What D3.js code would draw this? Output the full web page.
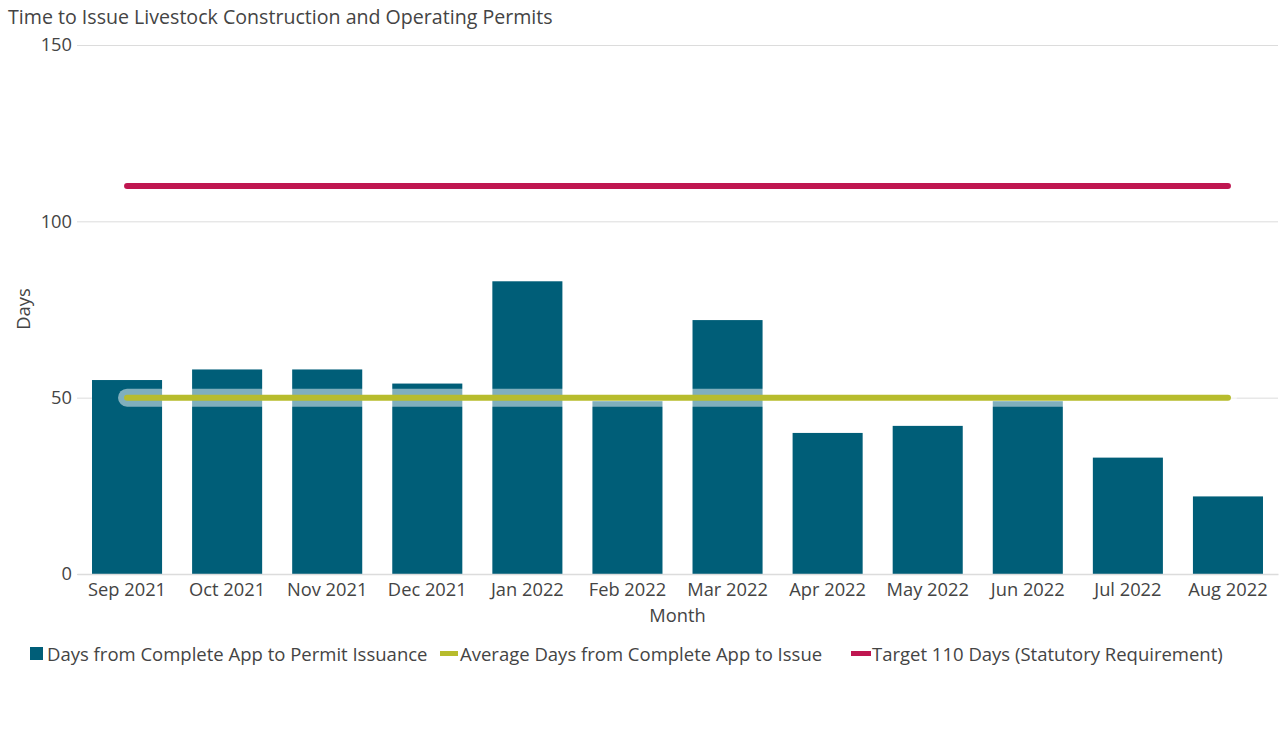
<!DOCTYPE html>
<html><head><meta charset="utf-8">
<script src="https://cdn.jsdelivr.net/npm/d3@7"></script>
<style>body{margin:0;background:#fff;font-family:"Open Sans",sans-serif;}</style>
</head><body>
<svg id="c" width="1285" height="751"></svg>
<script>
const months = ["Sep 2021","Oct 2021","Nov 2021","Dec 2021","Jan 2022","Feb 2022","Mar 2022","Apr 2022","May 2022","Jun 2022","Jul 2022","Aug 2022"];
const daysToIssue = [55,58,58,54,83,49,72,40,42,49,33,22];
const averageDays = [50,50,50,50,50,50,50,50,50,50,50,50];
const targetDays = [110,110,110,110,110,110,110,110,110,110,110,110];
const yTicks = [0,50,100,150];
const seriesNames = ["Days from Complete App to Permit Issuance","Average Days from Complete App to Issue","Target 110 Days (Statutory Requirement)"];

const colBar = "#005e78", colAvg = "#b7bc2d", colTgt = "#bf1650", txt = "#444";
const FS = 18.3;
const svg = d3.select("#c");
const L = 77, R = 1278, T = 45, B = 574;
const x = d3.scaleBand().domain(months).range([L, R]).paddingInner(0.3).paddingOuter(0.15);
const y = d3.scaleLinear().domain([0,150]).range([B, T]);

svg.append("text").attr("x",8).attr("y",24).attr("font-size",19.6).attr("fill",txt).text("Time to Issue Livestock Construction and Operating Permits");

const yAx = svg.append("g").attr("transform",`translate(${L},0)`)
  .call(d3.axisLeft(y).tickValues(yTicks).tickSize(-(R-L)).tickPadding(5));
yAx.select(".domain").remove();
yAx.selectAll(".tick line").attr("stroke","#dcdcdc").attr("stroke-width",1);
yAx.selectAll(".tick text").attr("font-size",FS).attr("fill",txt).attr("font-family","Open Sans");

svg.append("g").selectAll("rect").data(daysToIssue).join("rect")
  .attr("x",(d,i)=>x(months[i])).attr("width",x.bandwidth())
  .attr("y",d=>y(d)).attr("height",d=>B-y(d)).attr("fill",colBar);

const xAx = svg.append("g").attr("transform",`translate(0,${B})`)
  .call(d3.axisBottom(x).tickSize(0).tickPadding(9));
xAx.select(".domain").attr("stroke","#dcdcdc").attr("stroke-width",1.5);
xAx.selectAll(".tick text").attr("font-size",FS).attr("fill",txt).attr("font-family","Open Sans");

const line = d3.line().x((d,i)=>x(months[i])+x.bandwidth()/2).y(d=>y(d));
svg.append("path").datum(averageDays).attr("d",line).attr("fill","none")
  .attr("stroke","#fff").attr("stroke-opacity",0.5).attr("stroke-width",18).attr("stroke-linecap","round");
svg.append("path").datum(averageDays).attr("d",line).attr("fill","none")
  .attr("stroke",colAvg).attr("stroke-width",6).attr("stroke-linecap","round");
svg.append("path").datum(targetDays).attr("d",line).attr("fill","none")
  .attr("stroke",colTgt).attr("stroke-width",6).attr("stroke-linecap","round");

svg.append("text").attr("transform","translate(30,309) rotate(-90)").attr("text-anchor","middle")
  .attr("font-size",FS).attr("fill",txt).text("Days");
svg.append("text").attr("x",(L+R)/2).attr("y",622).attr("text-anchor","middle")
  .attr("font-size",FS).attr("fill",txt).text("Month");

const lg = svg.append("g");
const legendX = [30,440,851];
lg.append("rect").attr("x",legendX[0]).attr("y",647).attr("width",13).attr("height",13).attr("fill",colBar);
lg.append("rect").attr("x",legendX[1]).attr("y",651).attr("width",18).attr("height",5).attr("fill",colAvg);
lg.append("rect").attr("x",legendX[2]).attr("y",651).attr("width",20).attr("height",5).attr("fill",colTgt);
const textX = [47,460,872];
seriesNames.forEach((n,i)=>{
  lg.append("text").attr("x",textX[i]).attr("y",661).attr("font-size",18.5).attr("fill",txt).text(n);
});
</script>
</body></html>
